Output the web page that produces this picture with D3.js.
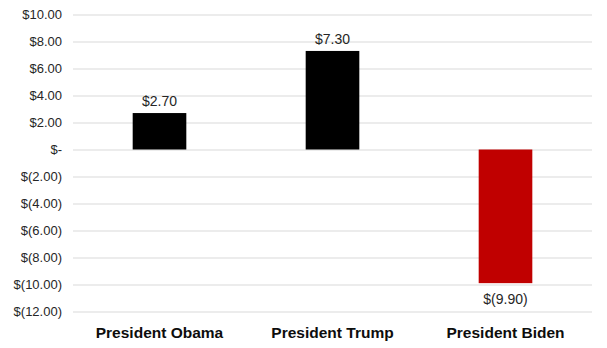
<!DOCTYPE html>
<html>
<head>
<meta charset="utf-8">
<script src="https://cdn.jsdelivr.net/npm/d3@7"></script>
<style>
  html, body { margin: 0; padding: 0; background: #fff; }
  svg { display: block; font-family: "Liberation Sans", Arial, sans-serif; }
</style>
</head>
<body>
<svg id="chart" width="607" height="348"></svg>
<script>
// Net change per presidency, in dollars
const categories = ["President Obama", "President Trump", "President Biden"];
const values = [2.70, 7.30, -9.90];
const barColors = ["#000000", "#000000", "#c00000"];
const tickValues = [10, 8, 6, 4, 2, 0, -2, -4, -6, -8, -10, -12];

const svg = d3.select("#chart");
const margin = { left: 73, right: 15, top: 14.5, bottom: 36.5 };
const W = 607, H = 348;

const x = d3.scaleBand()
  .domain(categories)
  .range([margin.left, W - margin.right])
  .paddingInner(0.69)
  .paddingOuter(0.345);

const y = d3.scaleLinear()
  .domain([-12, 10])
  .range([H - margin.bottom, margin.top]);

// Accounting-style currency: negatives in parentheses, zero as a dash
function money(v) {
  if (v === 0) return "$-";
  const s = d3.format(",.2f")(Math.abs(v));
  return v < 0 ? `$(${s})` : `$${s}`;
}

// Gridlines and y-axis labels
const yAxis = d3.axisLeft(y)
  .tickValues(tickValues)
  .tickSize(-(W - margin.right - margin.left))
  .tickPadding(11)
  .tickFormat(money);

const gy = svg.append("g")
  .attr("transform", `translate(${margin.left},0)`)
  .call(yAxis);
gy.select(".domain").remove();
gy.selectAll(".tick line").attr("stroke", "#d9d9d9").attr("stroke-width", 1);
gy.selectAll(".tick text")
  .attr("fill", "#262626")
  .style("font-size", "13px");

// Bars
svg.append("g").selectAll("rect")
  .data(values)
  .join("rect")
  .attr("x", (d, i) => x(categories[i]))
  .attr("width", x.bandwidth())
  .attr("y", d => y(Math.max(0, d)))
  .attr("height", d => Math.abs(y(d) - y(0)))
  .attr("fill", (d, i) => barColors[i]);

// Value labels
svg.append("g").selectAll("text")
  .data(values)
  .join("text")
  .attr("x", (d, i) => x(categories[i]) + x.bandwidth() / 2)
  .attr("y", d => d >= 0 ? y(d) - 7 : y(d) + 21)
  .attr("text-anchor", "middle")
  .attr("fill", "#262626")
  .style("font-size", "14px")
  .text(d => money(d));

// Category labels
svg.append("g").selectAll("text")
  .data(categories)
  .join("text")
  .attr("x", d => x(d) + x.bandwidth() / 2)
  .attr("y", H - 10)
  .attr("text-anchor", "middle")
  .attr("fill", "#0d0d0d")
  .style("font-size", "15.5px")
  .style("font-weight", "bold")
  .text(d => d);
</script>
</body>
</html>
